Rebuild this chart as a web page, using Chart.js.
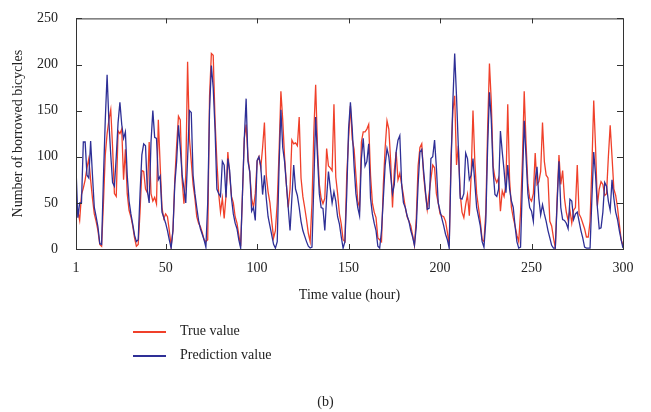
<!DOCTYPE html>
<html>
<head>
<meta charset="utf-8">
<script src="https://cdn.jsdelivr.net/npm/chart.js@4/dist/chart.umd.min.js"></script>
<style>
  body { margin: 0; background: #fff; }
  #wrap { position: relative; width: 651px; height: 412px; font-family: "Liberation Serif", serif; color: #222; }
  .leg { position: absolute; left: 133px; font-size: 14px; }
  .leg span.ln { position: absolute; left: 0; top: 8px; width: 33px; height: 1.5px; }
  .leg span.tx { position: absolute; left: 47px; top: 0; white-space: nowrap; }
  #cap { position: absolute; left: 0; width: 651px; top: 394px; text-align: center; font-size: 14px; }
</style>
</head>
<body>
<div id="wrap">
  <canvas id="chart" width="651" height="412"></canvas>
  <div class="leg" style="top:323px"><span class="ln" style="background:#f0402a"></span><span class="tx">True value</span></div>
  <div class="leg" style="top:347px"><span class="ln" style="background:#2e2f96"></span><span class="tx">Prediction value</span></div>
  <div id="cap">(b)</div>
</div>
<script>
// hours 1..300
const hours = []
for (let h = 1; h <= 300; h++) hours.push(h)

const xTicks = [1, 50, 100, 150, 200, 250, 300]
const yTicks = [0, 50, 100, 150, 200, 250]

// values, 10 per row
const trueValue = [
  45, 41, 31, 59, 66, 75, 88, 98, 75, 55,
  38, 30, 20, 5, 3, 50, 102, 125, 140, 151,
  110, 60, 57, 128, 125, 130, 75, 108, 60, 42,
  35, 25, 12, 3, 5, 40, 85, 84, 65, 61,
  116, 60, 52, 56, 49, 140, 91, 45, 33, 38,
  35, 20, 3, 20, 75, 112, 144, 140, 75, 49,
  80, 203, 120, 95, 70, 55, 35, 28, 24, 18,
  10, 8, 10, 166, 212, 210, 140, 95, 60, 40,
  55, 33, 58, 105, 80, 57, 50, 35, 28, 15,
  3, 60, 120, 135, 100, 82, 55, 45, 60, 95,
  100, 88, 110, 137, 80, 62, 50, 30, 12, 20,
  50, 105, 171, 140, 100, 70, 45, 65, 118, 114,
  115, 112, 143, 77, 57, 45, 32, 17, 8, 50,
  127, 178, 110, 70, 55, 49, 55, 109, 90, 88,
  85, 157, 78, 60, 38, 27, 10, 8, 80, 120,
  155, 119, 108, 80, 52, 45, 116, 127, 127, 130,
  135, 80, 50, 40, 34, 12, 10, 8, 70, 110,
  139, 130, 95, 45, 85, 105, 75, 82, 70, 58,
  45, 35, 30, 25, 15, 4, 33, 90, 110, 114,
  80, 60, 43, 60, 76, 91, 88, 60, 50, 38,
  36, 35, 30, 18, 4, 100, 150, 166, 91, 112,
  60, 40, 34, 48, 59, 36, 80, 150, 95, 60,
  45, 30, 10, 8, 40, 130, 201, 160, 90, 77,
  72, 77, 41, 63, 57, 70, 157, 75, 45, 34,
  25, 15, 8, 40, 95, 171, 115, 70, 55, 52,
  60, 104, 70, 73, 84, 137, 95, 80, 77, 30,
  25, 12, 1, 55, 102, 70, 85, 55, 40, 31,
  42, 28, 42, 45, 91, 38, 34, 28, 22, 13,
  13, 30, 90, 161, 110, 47, 65, 73, 70, 58,
  60, 100, 134, 100, 65, 58, 45, 27, 10, 4
]

const predictionValue = [
  88, 34, 50, 50, 116, 116, 80, 77, 117, 80,
  45, 35, 24, 6, 5, 77, 140, 189, 137, 102,
  72, 68, 100, 137, 159, 135, 120, 127, 80, 52,
  38, 27, 15, 8, 10, 60, 102, 114, 112, 63,
  50, 116, 150, 121, 120, 75, 79, 40, 34, 28,
  20, 10, 1, 20, 70, 95, 134, 110, 80, 66,
  50, 98, 150, 148, 80, 60, 45, 31, 22, 16,
  10, 2, 50, 150, 199, 175, 130, 65, 60, 57,
  95, 91, 56, 98, 85, 55, 38, 28, 22, 10,
  1, 60, 120, 163, 95, 84, 41, 45, 31, 96,
  100, 90, 59, 80, 55, 35, 25, 15, 5, 1,
  8, 90, 151, 110, 95, 70, 45, 20, 55, 91,
  65, 58, 45, 30, 20, 14, 8, 3, 1, 2,
  70, 143, 100, 60, 45, 44, 20, 56, 84, 66,
  50, 62, 52, 35, 27, 13, 1, 8, 60, 130,
  159, 130, 90, 60, 45, 36, 98, 120, 90, 95,
  114, 55, 38, 28, 20, 3, 1, 20, 55, 91,
  109, 100, 80, 60, 70, 105, 118, 123, 70, 50,
  45, 36, 30, 20, 13, 4, 24, 70, 105, 108,
  85, 63, 43, 44, 98, 100, 118, 88, 50, 41,
  33, 25, 16, 10, 1, 90, 160, 212, 165, 110,
  55, 54, 60, 104, 98, 75, 80, 98, 72, 45,
  35, 25, 8, 2, 30, 110, 170, 140, 85, 59,
  57, 65, 128, 105, 85, 61, 91, 65, 52, 45,
  25, 8, 1, 2, 70, 139, 100, 60, 45, 41,
  30, 75, 89, 55, 37, 48, 38, 30, 20, 12,
  4, 1, 1, 50, 95, 45, 32, 31, 28, 22,
  54, 52, 32, 38, 40, 30, 20, 12, 2, 1,
  1, 1, 55, 105, 80, 45, 22, 23, 40, 72,
  68, 52, 42, 75, 55, 40, 32, 20, 10, 1
]

const toPoints = (arr) => arr.map((v, i) => ({ x: hours[i], y: v }))

// box around the plot with inward ticks on all four sides
const framePlugin = {
  id: 'frame',
  afterDatasetsDraw(chart) {
    const { ctx, chartArea: a, scales } = chart
    ctx.save()
    ctx.strokeStyle = '#333'
    ctx.lineWidth = 1
    ctx.strokeRect(a.left + 0.5, a.top + 0.5, a.right - a.left, a.bottom - a.top)
    ctx.beginPath()
    xTicks.forEach((t) => {
      const px = Math.round(scales.x.getPixelForValue(t)) + 0.5
      ctx.moveTo(px, a.bottom); ctx.lineTo(px, a.bottom - 5)
      ctx.moveTo(px, a.top); ctx.lineTo(px, a.top + 5)
    })
    yTicks.forEach((t) => {
      const py = Math.round(scales.y.getPixelForValue(t)) + 0.5
      ctx.moveTo(a.left, py); ctx.lineTo(a.left + 6, py)
      ctx.moveTo(a.right, py); ctx.lineTo(a.right - 6, py)
    })
    ctx.stroke()
    ctx.restore()
  }
}

const font = { family: '"Liberation Serif", serif', size: 14 }

new Chart(document.getElementById('chart'), {
  type: 'line',
  data: {
    datasets: [
      {
        label: 'True value',
        data: toPoints(trueValue),
        borderColor: '#f0402a',
        borderWidth: 1.3,
        pointRadius: 0,
        tension: 0,
        order: 2
      },
      {
        label: 'Prediction value',
        data: toPoints(predictionValue),
        borderColor: '#2e2f96',
        borderWidth: 1.3,
        pointRadius: 0,
        tension: 0,
        order: 1
      }
    ]
  },
  options: {
    responsive: false,
    animation: false,
    layout: { padding: { top: 14, right: 28, left: 0, bottom: 103 } },
    plugins: { legend: { display: false }, tooltip: { enabled: false } },
    scales: {
      x: {
        type: 'linear',
        min: 1,
        max: 300,
        afterBuildTicks: (s) => { s.ticks = xTicks.map((v) => ({ value: v })) },
        afterFit: (s) => { s.height = 60 },
        grid: { display: false },
        border: { display: false },
        ticks: { color: '#222', font: font, padding: 3, maxRotation: 0 },
        title: { display: true, text: 'Time value (hour)', color: '#222', font: font, padding: { top: 0, bottom: 5 } }
      },
      y: {
        min: 0,
        max: 250,
        afterBuildTicks: (s) => { s.ticks = yTicks.map((v) => ({ value: v })) },
        afterFit: (s) => { s.width = 76 },
        grid: { display: false },
        border: { display: false },
        ticks: { color: '#222', font: font, padding: 10 },
        title: { display: true, text: 'Number of borrowed bicycles', color: '#222', font: font, padding: { top: 10, bottom: 0 } }
      }
    }
  },
  plugins: [framePlugin]
})
</script>
</body>
</html>
